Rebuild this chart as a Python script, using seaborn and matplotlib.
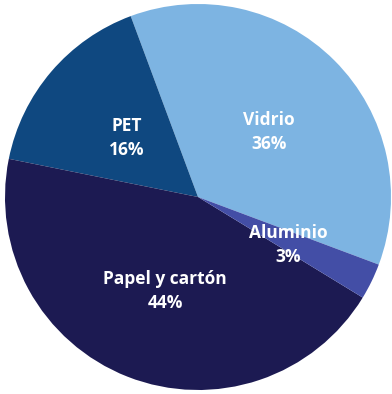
import matplotlib
matplotlib.use("Agg")
import matplotlib.pyplot as plt
import seaborn as sns

sns.set_theme(style="white")
plt.rcParams['font.family'] = ['Open Sans', 'DejaVu Sans']

categories = ["Vidrio", "PET", "Papel y cartón", "Aluminio"]
values = [36, 16, 44, 3]
labels = ["Vidrio\n36%", "PET\n16%", "Papel y cartón\n44%", "Aluminio\n3%"]
colors = ["#7db4e2", "#0f4880", "#1c1a52", "#434ea6"]

W, H = 392, 394
cx, cy, R = 198, 197, 193

fig = plt.figure(figsize=(W / 100, H / 100), dpi=100)
ax = fig.add_axes([0, 0, 1, 1])
wedges, _ = ax.pie(values, colors=colors, startangle=-20.5, counterclock=True,
                   radius=1.0, wedgeprops=dict(linewidth=0))
ax.set_aspect('auto')
ax.set_xlim(-cx / R, (W - cx) / R)
ax.set_ylim(-(H - cy) / R, cy / R)
ax.axis('off')

# label positions in pixel coords (x, y from top)
label_px = [(269, 132), (127, 138), (165, 291), (288, 245)]
for lab, (px, py) in zip(labels, label_px):
    ax.text((px - cx) / R, (cy - py) / R, lab, ha='center', va='center',
            color='white', fontsize=12.5, fontweight='bold', linespacing=1.4)

fig.savefig("out.png", dpi=100)
